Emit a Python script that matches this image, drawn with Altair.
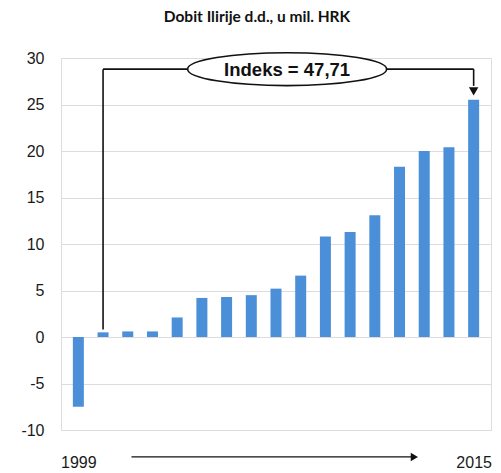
import altair as alt
import pandas as pd

years = list(range(1999, 2016))
profit = [-7.5, 0.5, 0.6, 0.6, 2.1, 4.2, 4.3, 4.5, 5.2, 6.6, 10.8, 11.3, 13.1, 18.3, 20.0, 20.4, 25.5]

title_text = "Dobit Ilirije d.d., u mil. HRK"
index_label = "Indeks = 47,71"
bracket_y = 28.8
bracket_start_year = 2000
bracket_end_year = 2015
bracket_start_bottom = 0.8
bracket_end_bottom = 27.0
arrow_head_y = 26.4
ellipse_year = 2007.45
bottom_arrow_y = -12.9
bottom_arrow_from = 2001.15
bottom_arrow_to = 2012.5
bottom_head_year = 2012.6

df = pd.DataFrame({"year": years, "profit": profit})

x_scale = alt.Scale(domain=[1998.5, 2015.5], nice=False, zero=False)
y_scale = alt.Scale(domain=[-10, 30], nice=False)

base = alt.Chart(df)

bars = base.mark_bar(color="#4a8fd8", size=11).encode(
    x=alt.X("year:Q", scale=x_scale,
            axis=alt.Axis(values=[1999, 2015], format="d", title=None, grid=False,
                          domain=False, ticks=False, labelPadding=24,
                          labelFontSize=16, labelFont="Liberation Sans",
                          labelColor="#1a1a1a", labelFlush=False)),
    y=alt.Y("profit:Q", scale=y_scale,
            axis=alt.Axis(values=[-10, -5, 0, 5, 10, 15, 20, 25, 30], title=None,
                          domain=False, ticks=False, labelPadding=17,
                          labelExpr="datum.value + ''",
                          labelFontSize=16, labelFont="Liberation Sans",
                          labelColor="#1a1a1a", gridColor="#dcdcdc",
                          gridWidth=1.2)),
)

# Bracket lines
vlines = pd.DataFrame({
    "x": [bracket_start_year, bracket_end_year],
    "y": [bracket_start_bottom, bracket_end_bottom],
    "y2": [bracket_y, bracket_y],
})
vrules = alt.Chart(vlines).mark_rule(color="#111", strokeWidth=1.6).encode(
    x="x:Q", y="y:Q", y2="y2:Q")

hline = pd.DataFrame({"x": [bracket_start_year], "x2": [bracket_end_year], "y": [bracket_y]})
hrule = alt.Chart(hline).mark_rule(color="#111", strokeWidth=1.6).encode(
    x="x:Q", x2="x2:Q", y="y:Q")

head = pd.DataFrame({"x": [bracket_end_year], "y": [arrow_head_y]})
head_mark = alt.Chart(head).mark_point(
    shape="triangle-down", filled=True, color="#111", size=90, opacity=1).encode(
    x="x:Q", y="y:Q")

ell = pd.DataFrame({"x": [ellipse_year], "y": [bracket_y], "label": [index_label]})
ellipse = alt.Chart(ell).mark_point(
    shape="M-1,0 A1,0.165 0 1,1 1,0 A1,0.165 0 1,1 -1,0 Z",
    filled=True, fill="white", stroke="#111", strokeWidth=1.6, size=39600, opacity=1,
).encode(x="x:Q", y="y:Q")
ell_text = alt.Chart(ell).mark_text(
    font="Liberation Sans", fontSize=18.5, fontWeight="bold", color="#111",
    baseline="middle", dy=1).encode(x="x:Q", y="y:Q", text="label:N")

# Bottom arrow
barrow = pd.DataFrame({"x": [bottom_arrow_from], "x2": [bottom_arrow_to], "y": [bottom_arrow_y]})
barrow_rule = alt.Chart(barrow).mark_rule(color="#111", strokeWidth=1.2, clip=False).encode(
    x="x:Q", x2="x2:Q", y="y:Q")
bhead = pd.DataFrame({"x": [bottom_head_year], "y": [bottom_arrow_y]})
bhead_mark = alt.Chart(bhead).mark_point(
    shape="triangle-right", filled=True, color="#111", size=70, opacity=1, clip=False).encode(
    x="x:Q", y="y:Q")

chart = alt.layer(
    bars, vrules, hrule, head_mark, ellipse, ell_text, barrow_rule, bhead_mark
).properties(
    width=430, height=372,
    title=alt.TitleParams(title_text, font="Lato", fontSize=15.5, fontWeight="bold",
                          color="#111", offset=24, dx=-19, anchor="middle"),
    autosize=alt.AutoSizeParams(type="none"),
    padding={"left": 53, "top": 50, "right": 2, "bottom": 43},
).configure_view(stroke=None).configure(background="white")

chart.save("out.html", embed_options={"renderer": "svg", "actions": False})
